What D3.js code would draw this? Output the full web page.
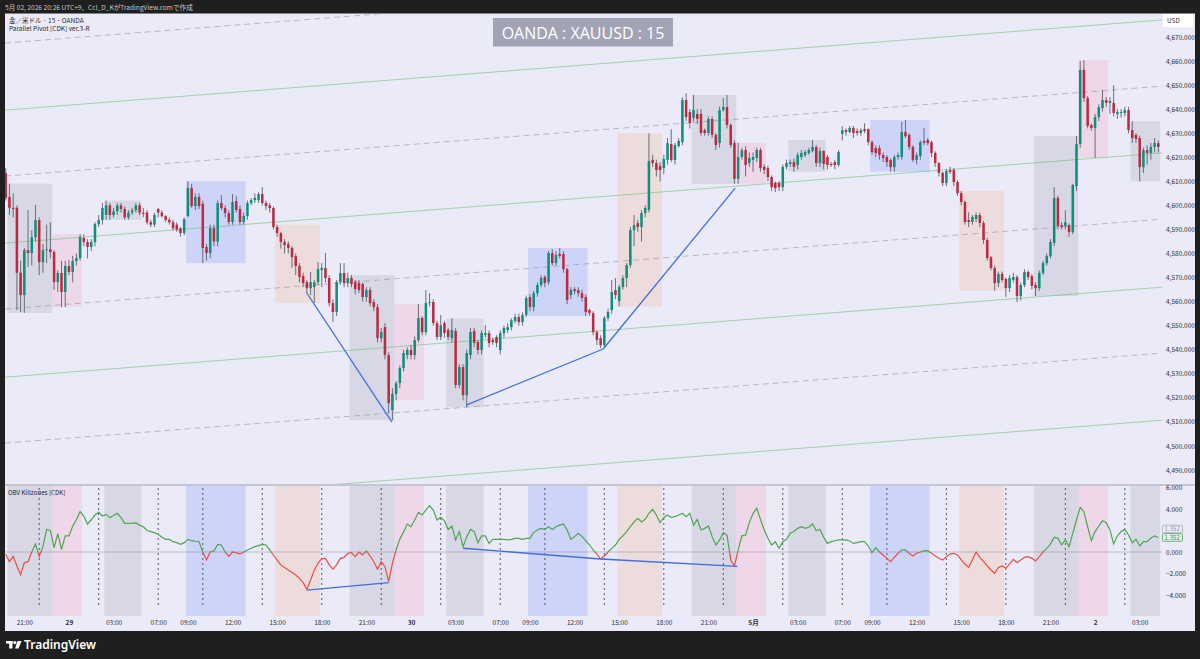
<!DOCTYPE html>
<html>
<head>
<meta charset="utf-8">
<script src="https://cdn.jsdelivr.net/npm/d3@7"></script>
<style>
html, body { margin: 0; padding: 0; background: #1f1f1f; }
svg { display: block; font-family: "Noto Sans CJK JP", "Noto Sans", sans-serif; }
</style>
</head>
<body>
<svg id="chart" width="1200" height="659"></svg>
<script>
// OANDA XAUUSD 15m, one entry per bar: [open, high, low, close]
var candles = [
	[4613.5,4615.5,4602,4603],[4603.5,4609,4596,4599],[4599,4605,4595,4598.5],[4599,4600,4556.5,4572],[4572,4577,4555.7,4562.7],
	[4562.7,4582.3,4555.3,4581.4],[4581.4,4598,4574.4,4580.2],[4580.2,4589.7,4575,4586.8],[4586.8,4600.2,4585,4593.9],[4593.9,4595,4571,4576.4],
	[4576.4,4584,4572,4581.4],[4581.4,4592,4576,4581.8],[4581.8,4593,4578,4580.6],[4580.6,4581.4,4564.8,4568.1],[4568.1,4573,4564,4571.9],
	[4571.9,4577,4557.7,4564],[4564,4577,4557.7,4574.8],[4574.8,4577.3,4571,4572.3],[4572.3,4579,4568,4576.9],[4576.9,4580,4575,4578.1],
	[4578.1,4588,4577,4586.8],[4586.4,4588,4583,4584.8],[4584.8,4586,4578,4582.7],[4582.7,4586,4581,4584.8],[4584.8,4593,4583,4592.2],
	[4592.2,4596,4591,4593.9],[4593.9,4601,4592,4598.9],[4596,4602,4594,4600],[4600,4601,4594,4596],[4596,4599,4595,4597.5],
	[4597.5,4601,4596,4600],[4600,4601,4597,4598.5],[4598.5,4599.5,4594,4595],[4595,4598,4594,4597],[4597,4599,4596,4598],
	[4598,4601,4597,4600],[4600,4601,4596,4597],[4597,4599,4595,4596.5],[4597,4598,4592,4593],[4593,4594,4591,4592],
	[4592,4597,4591,4596],[4598.5,4599,4595,4597],[4597,4598,4595,4595.5],[4595.5,4596,4593,4594],[4594,4595,4592,4593],
	[4593,4594,4589.5,4590.5],[4592,4593,4589,4590],[4590.5,4591,4587,4588.5],[4588.5,4595,4587.5,4594.3],[4595.6,4610,4595,4607.2],
	[4607.2,4609,4599,4599.7],[4599.7,4605,4598,4603.5],[4603.5,4605,4598.5,4599.7],[4600.6,4602,4576,4582.3],[4582.7,4584,4577,4580.2],
	[4580.2,4592,4578,4590.6],[4590.6,4592,4583,4585],[4585,4602,4583,4601],[4601,4604.3,4598,4598.9],[4598.9,4600,4595,4596.8],
	[4596.8,4598,4592,4593.1],[4593.1,4604.7,4592,4601.4],[4601.8,4604,4597,4598.1],[4598.5,4600,4592,4593.1],[4593.1,4597,4592,4595.6],
	[4595.6,4602,4594,4601],[4601,4603,4600,4602.2],[4602.2,4605,4601,4603.1],[4602.2,4605.5,4601,4604.7],[4604.7,4607.6,4600,4601],
	[4601,4602,4598,4599.7],[4600,4601,4597,4598.9],[4598.9,4599.5,4590,4591],[4591,4592,4587,4588.5],[4588.5,4589,4582,4584.8],
	[4584.8,4586,4580,4583.5],[4583.9,4585,4580,4582.3],[4582.3,4583,4574,4578.5],[4578.9,4580,4571,4574.8],[4574.8,4576,4568,4570.2],
	[4570.6,4572,4566,4567.7],[4568.1,4569,4564,4565.6],[4565.6,4572.3,4562.7,4568.1],[4566.1,4569,4559.4,4568.1],[4568.1,4576.5,4567,4573.5],
	[4573.1,4576,4566,4574],[4574,4580.2,4568,4569.8],[4569.8,4571,4558,4559.4],[4559.4,4561,4551.5,4555.7],[4555.7,4569,4554,4568.1],
	[4568.1,4576,4567,4571.9],[4571.9,4576,4566,4567.7],[4567.7,4572,4566,4569.8],[4569.8,4571,4566,4567.3],[4568.1,4569,4563,4565.2],
	[4567.7,4569,4563.5,4564.8],[4567.3,4568,4560,4561.9],[4561.9,4566,4560,4564.8],[4564.8,4566,4558,4559.4],[4559.8,4561,4556,4557.7],
	[4557.7,4559,4543,4544.8],[4544.8,4549,4543,4547.3],[4549.4,4551,4536,4537.8],[4537.8,4539,4513.7,4517.8],[4514.9,4524,4510.7,4521.6],
	[4521.6,4527,4519,4526.1],[4526.1,4533.5,4524,4532.4],[4532.4,4540,4531,4538.6],[4537.8,4541,4536,4539.9],[4539.9,4542,4536,4537.8],
	[4537.8,4545.5,4536,4544],[4544,4559,4543,4553.2],[4553.2,4554,4546,4547.3],[4547.3,4564.8,4546,4559.4],[4559.4,4563.5,4558,4559.8],
	[4559.8,4561,4550,4551.1],[4551.1,4552,4544,4545.3],[4545.3,4554.4,4544,4550.2],[4551.1,4552,4545,4546.9],[4548.2,4549,4544,4545.3],
	[4544.8,4553,4543,4548.2],[4547.8,4549,4524,4525.3],[4525.3,4534,4524,4532.8],[4532.8,4534,4519,4521.1],[4521.1,4540,4516.1,4538.6],
	[4537.8,4549,4536,4547.3],[4547.8,4549,4541,4542.8],[4543.2,4544,4538,4539.9],[4539.9,4548,4538,4546.9],[4546.1,4550.2,4545,4546.9],
	[4546.9,4548,4541,4542.8],[4544,4545,4542,4543.2],[4545.3,4546,4541,4542.8],[4539.9,4548,4538,4546.9],[4546.9,4550,4545,4549],
	[4548.2,4551,4547,4549.4],[4549.4,4553,4548,4552.3],[4551.9,4555,4551,4553.6],[4553.6,4555,4550,4551.5],[4551.5,4555.5,4550,4554.4],
	[4554.4,4562.5,4553.5,4561.5],[4561.9,4563,4556,4557.7],[4557.7,4564.5,4556,4563.5],[4563.5,4568,4562,4566.9],[4566.9,4571,4566,4569.8],
	[4570.2,4571,4566,4567.7],[4568.1,4581,4567,4580.2],[4580.2,4581.8,4575,4576],[4576,4581,4575,4579.4],[4579.8,4582.3,4578,4579],
	[4579.8,4581,4572,4573.5],[4573.5,4574,4559,4560.6],[4562.7,4566,4561,4564.8],[4565.2,4566,4563,4564.4],[4564.8,4566,4562,4563.5],
	[4563.5,4565,4560,4561.5],[4561.9,4563,4554,4555.7],[4556.5,4557,4554,4555.2],[4555.2,4556,4546,4547.3],[4547.3,4548,4542,4544],
	[4544.8,4546,4540.7,4541.9],[4541.9,4554,4541,4553.2],[4553.2,4557,4552,4555.7],[4556.5,4569,4555,4564],[4564.8,4569.8,4561,4562.7],
	[4560.2,4567,4558,4566.1],[4566.1,4571,4565,4569.8],[4569.8,4576,4566,4575.2],[4575.2,4591,4574,4589.7],[4589.7,4596,4583,4591.8],
	[4592.6,4594,4589,4591],[4591,4598,4585,4596.8],[4596.8,4600,4595,4598.9],[4598.1,4630,4597,4618.4],[4618.9,4621,4616,4617.6],
	[4617.6,4619,4612,4614.7],[4616.4,4618,4610,4614.7],[4615.5,4621,4613,4619.3],[4618.9,4628,4617,4625.9],[4625.5,4631.7,4618,4618.9],
	[4618.9,4626,4617,4625.1],[4624.7,4628,4624,4626.8],[4626.3,4645,4625,4643.8],[4643.8,4646.7,4635,4636.7],[4638.8,4640,4632,4634.2],
	[4636.3,4645.9,4635,4639.6],[4638,4640,4634,4635.9],[4638,4640,4629,4630.1],[4631.3,4632,4629,4630.1],[4630.1,4637,4629,4635.9],
	[4635.9,4637,4628,4629.3],[4629.3,4630,4623,4625.1],[4625.9,4641,4624,4639.6],[4639.6,4644.6,4639,4640.9],[4640.9,4645.9,4632,4633.4],
	[4633.4,4634,4624,4625.1],[4625.9,4627,4609,4611],[4611,4626,4609,4620.1],[4620.1,4624,4619,4623],[4623,4624.5,4612,4616.8],
	[4617.6,4622,4616,4619.7],[4618.9,4622,4614,4620.1],[4619.7,4624,4618,4623],[4623,4624,4614,4615.5],[4616,4617,4613,4614.7],
	[4615.5,4616.5,4610,4611.8],[4611.8,4612.5,4606,4607.6],[4609.3,4610,4605.5,4607.2],[4609.3,4610,4606,4607.6],[4607.6,4617,4606,4616],
	[4616,4619,4615,4617.6],[4617.2,4619,4616,4618],[4618,4619.5,4614,4616],[4616.8,4622,4615,4620.9],[4620.1,4623,4619,4621.8],
	[4620.9,4623,4620,4622.2],[4621.8,4624,4621,4623],[4622.6,4627.2,4622,4624.3],[4624.3,4625,4616,4617.6],[4617.6,4624,4616,4622.6],
	[4622.6,4623,4615,4617.2],[4620.1,4621,4615,4616.8],[4617.2,4618,4616,4616.8],[4618,4619,4615,4616.8],[4616.8,4623,4616,4622.2],
	[4629.7,4633,4627,4631.3],[4631.3,4632,4629,4630.5],[4630.5,4633,4630,4632.2],[4632.2,4633,4628,4630.1],[4630.9,4632,4629,4630.1],
	[4630.1,4632,4629,4631.3],[4631.7,4634.2,4630,4630.9],[4631.7,4632,4625,4626.3],[4626.3,4627,4621,4622.2],[4623.8,4625,4620,4621.8],
	[4623.8,4625,4619,4620.9],[4620.9,4622,4618,4619.7],[4620.1,4621,4616,4618],[4618.9,4619.5,4614,4615.9],[4615.9,4621,4614,4620.1],
	[4620.1,4622,4619,4620.9],[4620.1,4634.7,4619,4630.5],[4630.5,4635.5,4628,4628.8],[4629.3,4630,4623,4624.3],[4624.3,4625,4618,4618.9],
	[4618.9,4622,4617,4620.9],[4620.5,4627,4619,4626.3],[4626.8,4632.2,4625,4626],[4627.2,4628,4625,4625.9],[4626.3,4627,4620,4621.8],
	[4621.8,4622.5,4616,4617.6],[4617.6,4618,4612,4613.5],[4613.5,4614,4608,4609.3],[4609.3,4615,4608,4614.3],[4614.7,4616,4613,4613.9],
	[4614.7,4615.5,4608,4609.7],[4609.7,4610.5,4604,4605.1],[4605.1,4606,4600,4601.4],[4601.4,4602,4592,4593.1],[4593.9,4597.2,4591,4593.1],
	[4593.1,4596,4592,4595.2],[4594.3,4597,4593,4596],[4596,4597,4591,4592.7],[4592.7,4593.5,4584,4585.6],[4585.6,4586.5,4577,4578.1],
	[4578.5,4579,4573,4574],[4574,4575,4564.5,4567.7],[4567.7,4572.5,4566,4571.5],[4571.5,4572.5,4568,4569],[4569.4,4570,4562,4565.6],
	[4565.6,4571,4564,4569.8],[4569,4572,4568,4570.2],[4570.2,4571,4559.8,4562.3],[4562.3,4568,4560.5,4566.9],[4566.9,4573.5,4566,4572.3],
	[4572.3,4573,4569,4570.2],[4570.6,4571.5,4565,4566.5],[4566.9,4568,4562.3,4565.6],[4565.6,4573,4564.5,4571.9],[4571.9,4577,4571,4576],
	[4576,4580,4575,4578.9],[4578.9,4586,4578,4584.8],[4584.4,4607.6,4583,4603.1],[4603.1,4604,4590,4591.4],[4591.8,4593,4590,4591],
	[4591.4,4598,4590,4593],[4591.8,4592.5,4587,4588.9],[4588.9,4609,4588,4608.5],[4608,4628.8,4606,4625.5],[4625.5,4660,4624,4656.3],
	[4656.3,4660.4,4643,4644.6],[4644.6,4645.5,4632,4633],[4633.4,4634,4631,4632.2],[4632.2,4638,4619.7,4636.7],[4636.7,4642,4635,4640.9],
	[4640.5,4648,4639,4643.8],[4643.8,4645,4641,4642.6],[4642.6,4645,4638,4643.4],[4642.6,4650,4637,4638.4],[4638,4640,4636,4638.8],
	[4638.4,4640,4636.5,4638.8],[4638.4,4641,4637,4639.6],[4639.6,4641,4630,4631.3],[4631.3,4635,4626,4628],[4629.3,4630,4626,4627.6],
	[4628,4629,4610,4615.9],[4615.9,4624,4613.5,4623],[4623,4625,4617,4621.8],[4621.8,4626,4619,4624.3],[4624.3,4628,4622,4625.9],
	[4625.9,4627,4622,4624.3]
];

// OBV Killzones oscillator, one value per bar
var obv = [
	-0.2,-0.9,-0.4,-1.3,-2.1,-1.0,-0.9,0.0,0.74,-0.4,
	0.5,2.1,2.0,0.4,1.7,0.25,1.5,1.5,2.4,3.0,
	3.75,3.35,2.6,3.0,3.44,3.7,3.35,3.5,3.2,3.4,
	3.6,3.2,2.67,2.67,2.68,2.7,2.5,2.35,2.0,1.9,
	1.8,1.65,1.37,1.18,1.18,0.96,0.87,0.71,0.87,1.18,
	1.05,1.0,0.96,0.0,-0.74,0.0,0.1,0.7,0.65,0.0,
	-0.4,0.0,-0.06,-0.2,0.0,0.19,0.35,0.5,0.6,0.7,
	0.65,0.19,-0.28,-0.75,-1.2,-1.45,-1.67,-1.9,-2.14,-2.45,
	-2.85,-3.47,-2.6,-1.67,-1.05,-0.62,-0.59,-1.2,-1.6,-1.2,
	-0.59,-0.5,-0.12,-0.06,-0.43,0.0,-0.28,0.1,-0.37,-0.9,
	-1.6,-0.9,-1.37,-2.76,-1.05,0.19,1.2,1.86,2.6,2.35,
	2.98,3.69,3.44,3.9,4.3,3.9,2.98,3.22,2.9,2.1,
	2.4,1.12,1.9,0.5,1.4,2.1,1.9,0.87,1.5,1.5,
	0.8,1.18,1.18,1.18,1.18,1.12,1.18,1.27,1.27,1.18,
	1.27,1.27,1.83,2.05,2.2,2.1,2.35,2.1,2.35,2.5,
	2.6,2.05,1.18,1.43,1.74,1.43,1.05,0.65,0.19,-0.19,
	-0.65,-0.37,0,0.34,0.65,1.18,1.5,1.9,2.35,2.8,
	3.13,2.8,3.04,3.6,3.97,3.44,2.73,3.22,3.44,3.22,
	3.29,3.44,3.6,3.29,3.6,2.5,3.04,2.05,2.2,2.42,
	1.43,0.65,1.12,1.8,1.58,-0.74,-1.3,0.19,1.5,1.58,
	2.73,3.6,4.06,3.04,2.05,1.27,0.65,0.96,0.34,0.96,
	1.18,1.74,1.9,2.2,2.35,2.2,2.3,2.6,2.0,2.1,
	1.37,0.8,0.96,1.05,1.12,1.12,1.12,1.02,0.8,0.87,
	0.96,0.96,0.56,-0.06,0.4,0,-0.28,-0.59,-0.9,-0.5,
	-0.12,0.19,0.19,-0.12,-0.37,-0.12,0,0.1,0.12,-0.12,
	-0.37,-0.59,-0.74,-0.43,-0.19,-0.12,-0.28,-0.74,-1.12,-1.43,
	-0.74,0,-0.5,-0.9,-1.3,-1.67,-1.98,-1.43,-1.3,-1.52,
	-1.12,-0.68,-1.0,-0.74,-0.5,-0.43,-0.59,-0.84,-0.43,0,
	0.34,0.74,1.37,1.27,0.65,1.12,0.5,1.74,2.98,4.15,
	3.75,2.35,1.05,1.9,2.42,2.9,2.73,2.05,0.74,1.5,
	1.9,2.1,1.58,0.87,1.18,0.56,0.96,0.96,1.27,1.5,
	1.352
];

var firstBar = Date.UTC(2026, 3, 28, 19, 45);   // JST clock, market closed 06:00-07:00

// killzone sessions (JST)
var zoneStarts = ['20:00', '23:00', '02:30', '09:00', '15:00'];
var zoneEnds = ['23:00', '01:00', '05:00', '13:00', '18:00'];
var zoneKinds = ['gray', 'pink', 'gray', 'blue', 'orange'];
var sessionMarks = ['02:00', '07:00', '10:00', '14:00', '18:00', '22:00'];

var tickTimes = ['04-28 21:00', '04-29 00:00', '04-29 03:00', '04-29 07:00', '04-29 09:00', '04-29 12:00', '04-29 15:00',
	'04-29 18:00', '04-29 21:00', '04-30 00:00', '04-30 03:00', '04-30 07:00', '04-30 09:00', '04-30 12:00', '04-30 15:00',
	'04-30 18:00', '04-30 21:00', '05-01 00:00', '05-01 03:00', '05-01 07:00', '05-01 09:00', '05-01 12:00', '05-01 15:00',
	'05-01 18:00', '05-01 21:00', '05-02 00:00', '05-02 03:00'];
var tickLabels = ['21:00', '29', '03:00', '07:00', '09:00', '12:00', '15:00', '18:00', '21:00', '30', '03:00', '07:00', '09:00',
	'12:00', '15:00', '18:00', '21:00', '5月', '03:00', '07:00', '09:00', '12:00', '15:00', '18:00', '21:00', '2', '03:00'];
var dayLabels = ['29', '30', '5月', '2'];
var priceTicks = [4490, 4500, 4510, 4520, 4530, 4540, 4550, 4560, 4570, 4580, 4590, 4600, 4610, 4620, 4630, 4640, 4650, 4660, 4670];
var obvTicks = [-4, -2, 0, 2, 4, 6];

// Parallel Pivot channel: price at left edge and right edge of the view
var channelLeft = [4667.5, 4639.6, 4612.2, 4584.3, 4556.9, 4528.6, 4501.2, 4473.3];
var channelRight = [4704.9, 4677.1, 4649.6, 4621.8, 4594.3, 4566.0, 4538.6, 4510.7];
var channelDashed = [true, false, true, false, true, false, true, false];

// divergence lines [bar1, value1, bar2, value2]
var priceDivergence = [[80.8, 4564, 103.9, 4509.9], [123.8, 4517, 160.7, 4540.3], [160.7, 4540.3, 196.2, 4607.2]];
var obvDivergence = [[81, -3.55, 103, -2.85], [123, 0.35, 160, -0.65], [160, -0.65, 196.8, -1.33]];

var W = 1200, H = 659;
var left = 5, right = 1162, edge = 1195;
var mainTop = 14, mainBottom = 484, obvTop = 486, obvBottom = 616, axisBottom = 631;

var bg = '#ebeaf8';
var upColor = '#0c8f7b', downColor = '#bd2a40', wickColor = '#5e606c';
var zoneFill = {
	gray: 'rgba(150,155,175,0.24)',
	pink: 'rgba(250,140,175,0.2)',
	blue: 'rgba(110,140,250,0.23)',
	orange: 'rgba(240,180,140,0.26)'
};

var svg = d3.select('#chart');
var fmtKey = d3.utcFormat('%m-%d %H:%M');
var fmtClock = d3.utcFormat('%H:%M');

var barTimes = buildTimes(candles.length);
var keys = barTimes.map(function (d) { return fmtKey(d); });

var x = d3.scaleLinear().domain([-0.2, 311]).range([left, right]);
var yPrice = d3.scaleLinear().domain([4490, 4670]).range([470, 37]);
var yObv = d3.scaleLinear().domain([-4, 6]).range([595, 487.5]);
var step = x(1) - x(0);

draw();

function buildTimes(n) {
	var out = [];
	var t = firstBar;
	while (out.length < n) {
		var d = new Date(t);
		if (d.getUTCHours() !== 6) out.push(d);
		t += 15 * 60000;
	}
	return out;
}

function minutes(s) {
	var p = s.split(':');
	return +p[0] * 60 + +p[1];
}

function zoneGroups() {
	var groups = [];
	zoneStarts.forEach(function (s, k) {
		var a = minutes(s), b = minutes(zoneEnds[k]);
		var cur = null;
		barTimes.forEach(function (d, i) {
			var m = d.getUTCHours() * 60 + d.getUTCMinutes();
			var inside = a < b ? (m >= a && m < b) : (m >= a || m < b);
			if (inside) {
				if (!cur) { cur = { kind: zoneKinds[k], from: i, to: i }; groups.push(cur); }
				cur.to = i;
			} else {
				cur = null;
			}
		});
	});
	groups.forEach(function (g) {
		var part = candles.slice(g.from, g.to + 1);
		g.high = d3.max(part, function (c) { return c[1]; });
		g.low = d3.min(part, function (c) { return c[2]; });
	});
	return groups;
}

function draw() {
	var defs = svg.append('defs');
	defs.append('clipPath').attr('id', 'clipMain').append('rect')
		.attr('x', left).attr('y', mainTop).attr('width', right - left).attr('height', mainBottom - mainTop);
	defs.append('clipPath').attr('id', 'clipObv').append('rect')
		.attr('x', left).attr('y', obvTop).attr('width', right - left).attr('height', obvBottom - obvTop);
	defs.append('clipPath').attr('id', 'clipUp').append('rect')
		.attr('x', left).attr('y', obvTop).attr('width', right - left).attr('height', yObv(0) - obvTop);
	defs.append('clipPath').attr('id', 'clipDown').append('rect')
		.attr('x', left).attr('y', yObv(0)).attr('width', right - left).attr('height', obvBottom - yObv(0));

	svg.append('rect').attr('width', W).attr('height', H).attr('fill', '#1f1f1f');
	svg.append('rect').attr('x', left).attr('y', 13.5).attr('width', edge - left).attr('height', axisBottom - 13.5).attr('fill', bg);

	var groups = zoneGroups();

	// main pane
	var main = svg.append('g').attr('clip-path', 'url(#clipMain)');
	main.selectAll('rect.zone').data(groups).enter().append('rect')
		.attr('class', 'zone')
		.attr('x', function (g) { return x(g.from) - step / 2; })
		.attr('width', function (g) { return x(g.to) - x(g.from) + step; })
		.attr('y', function (g) { return yPrice(g.high); })
		.attr('height', function (g) { return yPrice(g.low) - yPrice(g.high); })
		.attr('fill', function (g) { return zoneFill[g.kind]; });

	main.selectAll('line.channel').data(channelLeft).enter().append('line')
		.attr('x1', x(-0.2)).attr('x2', x(311))
		.attr('y1', function (d) { return yPrice(d); })
		.attr('y2', function (d, i) { return yPrice(channelRight[i]); })
		.attr('stroke', function (d, i) { return channelDashed[i] ? 'rgba(140,140,155,0.55)' : 'rgba(90,185,100,0.5)'; })
		.attr('stroke-dasharray', function (d, i) { return channelDashed[i] ? '6,4' : null; })
		.attr('stroke-width', 1);

	var bw = step * 0.68;
	main.selectAll('line.wick').data(candles).enter().append('line')
		.attr('x1', function (d, i) { return x(i); })
		.attr('x2', function (d, i) { return x(i); })
		.attr('y1', function (d) { return yPrice(d[1]); })
		.attr('y2', function (d) { return yPrice(d[2]); })
		.attr('stroke', wickColor)
		.attr('stroke-width', 0.9);
	main.selectAll('rect.body').data(candles).enter().append('rect')
		.attr('x', function (d, i) { return x(i) - bw / 2; })
		.attr('width', bw)
		.attr('y', function (d) { return yPrice(Math.max(d[0], d[3])); })
		.attr('height', function (d) { return Math.max(0.9, Math.abs(yPrice(d[0]) - yPrice(d[3]))); })
		.attr('fill', function (d) { return d[3] >= d[0] ? upColor : downColor; });

	main.selectAll('line.div').data(priceDivergence).enter().append('line')
		.attr('x1', function (d) { return x(d[0]); })
		.attr('y1', function (d) { return yPrice(d[1]); })
		.attr('x2', function (d) { return x(d[2]); })
		.attr('y2', function (d) { return yPrice(d[3]); })
		.attr('stroke', '#3e6fe0')
		.attr('stroke-width', 1.3);

	// pane separator
	svg.append('rect').attr('x', left).attr('y', mainBottom).attr('width', edge - left).attr('height', 2)
		.attr('fill', '#c6c5d3');

	// OBV pane
	var lower = svg.append('g').attr('clip-path', 'url(#clipObv)');
	lower.selectAll('rect.zone').data(groups).enter().append('rect')
		.attr('x', function (g) { return x(g.from) - step / 2; })
		.attr('width', function (g) { return x(g.to) - x(g.from) + step; })
		.attr('y', obvTop)
		.attr('height', obvBottom - obvTop)
		.attr('fill', function (g) { return zoneFill[g.kind]; });

	var markIdx = [];
	keys.forEach(function (k, i) {
		if (sessionMarks.indexOf(fmtClock(barTimes[i])) >= 0) markIdx.push(i);
	});
	lower.selectAll('line.mark').data(markIdx).enter().append('line')
		.attr('x1', function (i) { return x(i); })
		.attr('x2', function (i) { return x(i); })
		.attr('y1', obvTop + 2).attr('y2', obvBottom - 8)
		.attr('stroke', '#55565f')
		.attr('stroke-width', 1)
		.attr('stroke-dasharray', '2,3');

	lower.append('line')
		.attr('x1', left).attr('x2', right)
		.attr('y1', yObv(0)).attr('y2', yObv(0))
		.attr('stroke', 'rgba(120,120,140,0.4)');

	var obvLine = d3.line()
		.x(function (d, i) { return x(i); })
		.y(function (d) { return yObv(d); });
	lower.append('path').datum(obv)
		.attr('d', obvLine).attr('fill', 'none')
		.attr('stroke', '#4ea64f').attr('stroke-width', 1.2)
		.attr('clip-path', 'url(#clipUp)');
	lower.append('path').datum(obv)
		.attr('d', obvLine).attr('fill', 'none')
		.attr('stroke', '#ee4b45').attr('stroke-width', 1.2)
		.attr('clip-path', 'url(#clipDown)');

	lower.selectAll('line.div').data(obvDivergence).enter().append('line')
		.attr('x1', function (d) { return x(d[0]); })
		.attr('y1', function (d) { return yObv(d[1]); })
		.attr('x2', function (d) { return x(d[2]); })
		.attr('y2', function (d) { return yObv(d[3]); })
		.attr('stroke', '#3e6fe0')
		.attr('stroke-width', 1.3);

	// price axis
	var pAxis = svg.append('g').attr('transform', 'translate(' + right + ',0)')
		.call(d3.axisRight(yPrice).tickValues(priceTicks).tickFormat(d3.format(',.3f')).tickSize(0).tickPadding(4));
	styleAxis(pAxis);

	var oAxis = svg.append('g').attr('transform', 'translate(' + right + ',0)')
		.call(d3.axisRight(yObv).tickValues(obvTicks).tickFormat(d3.format('.3f')).tickSize(0).tickPadding(4));
	styleAxis(oAxis);
	oAxis.selectAll('text').text(function (d) { return d3.format('.3f')(d).replace('-', '−'); });

	// time axis
	var tickIdx = tickTimes.map(function (t) { return keys.indexOf(t); });
	var tAxis = svg.append('g').attr('transform', 'translate(0,' + (obvBottom + 1) + ')')
		.call(d3.axisBottom(x).tickValues(tickIdx)
			.tickFormat(function (d, i) { return tickLabels[i]; })
			.tickSize(0).tickPadding(3));
	styleAxis(tAxis);
	tAxis.selectAll('text')
		.attr('font-weight', function (d, i) { return dayLabels.indexOf(tickLabels[i]) >= 0 ? 600 : 400; });

	// last value labels
	var last = obv[obv.length - 1];
	valueLabel(yObv(last) - 8.5, d3.format('.3f')(last), '#a8a8b4', '#9a9aa8');
	valueLabel(yObv(last), d3.format('.3f')(last), '#4ea64f', '#3f9a40');

	// USD badge
	svg.append('rect').attr('x', 1163).attr('y', 14).attr('width', 30).attr('height', 13).attr('fill', '#ffffff');
	svg.append('text').attr('x', 1167).attr('y', 23).attr('font-size', 6.5).attr('fill', '#333').text('USD');

	// legends
	svg.append('text').attr('x', 9).attr('y', 22.5).attr('font-size', 6.5).attr('fill', '#2a2a2e')
		.text('金／米ドル · 15 · OANDA');
	svg.append('text').attr('x', 9).attr('y', 30.5).attr('font-size', 6.5).attr('fill', '#2a2a2e')
		.text('Parallel Pivot [CDK] ver.3-R');
	svg.append('text').attr('x', 8).attr('y', 495).attr('font-size', 6.2).attr('fill', '#2a2a2e')
		.text('OBV Killzones [CDK]');

	svg.append('rect').attr('x', 493).attr('y', 18).attr('width', 180).attr('height', 28.5)
		.attr('fill', 'rgba(150,150,170,0.85)');
	svg.append('text').attr('x', 583).attr('y', 38.5).attr('text-anchor', 'middle')
		.attr('font-family', '"Open Sans", "Noto Sans", sans-serif')
		.attr('font-size', 16).attr('fill', '#ffffff')
		.text('OANDA : XAUUSD : 15');

	// frame texts
	svg.append('text').attr('x', 5).attr('y', 9.5).attr('font-size', 6.6).attr('fill', '#c8c8c8')
		.text('5月 02, 2026 20:26 UTC+9、Ccl_D_KがTradingView.comで作成');

	var logo = svg.append('g').attr('fill', '#ffffff');
	logo.append('rect').attr('x', 6).attr('y', 641).attr('width', 6.5).attr('height', 2.6);
	logo.append('rect').attr('x', 9.2).attr('y', 641).attr('width', 3.3).attr('height', 7.5);
	logo.append('circle').attr('cx', 14.8).attr('cy', 642.6).attr('r', 1.6);
	logo.append('polygon').attr('points', '17.5,641 21.5,641 18.6,648.5 15,648.5');
	svg.append('text').attr('x', 24).attr('y', 649).attr('font-size', 12).attr('font-weight', 600)
		.attr('fill', '#ffffff').attr('font-family', '"Noto Sans", sans-serif').text('TradingView');
}

function styleAxis(g) {
	g.select('.domain').remove();
	g.attr('font-family', null).attr('font-size', null);
	g.selectAll('text').attr('font-size', 6.5).attr('fill', '#2f2f36');
}

function valueLabel(cy, txt, stroke, color) {
	svg.append('rect').attr('x', 1162.5).attr('y', cy - 3.8).attr('width', 20).attr('height', 7.6)
		.attr('fill', bg).attr('stroke', stroke).attr('stroke-width', 0.8).attr('rx', 1);
	svg.append('text').attr('x', 1164.5).attr('y', cy + 2.2).attr('font-size', 6.2).attr('fill', color).text(txt);
}
</script>
</body>
</html>
